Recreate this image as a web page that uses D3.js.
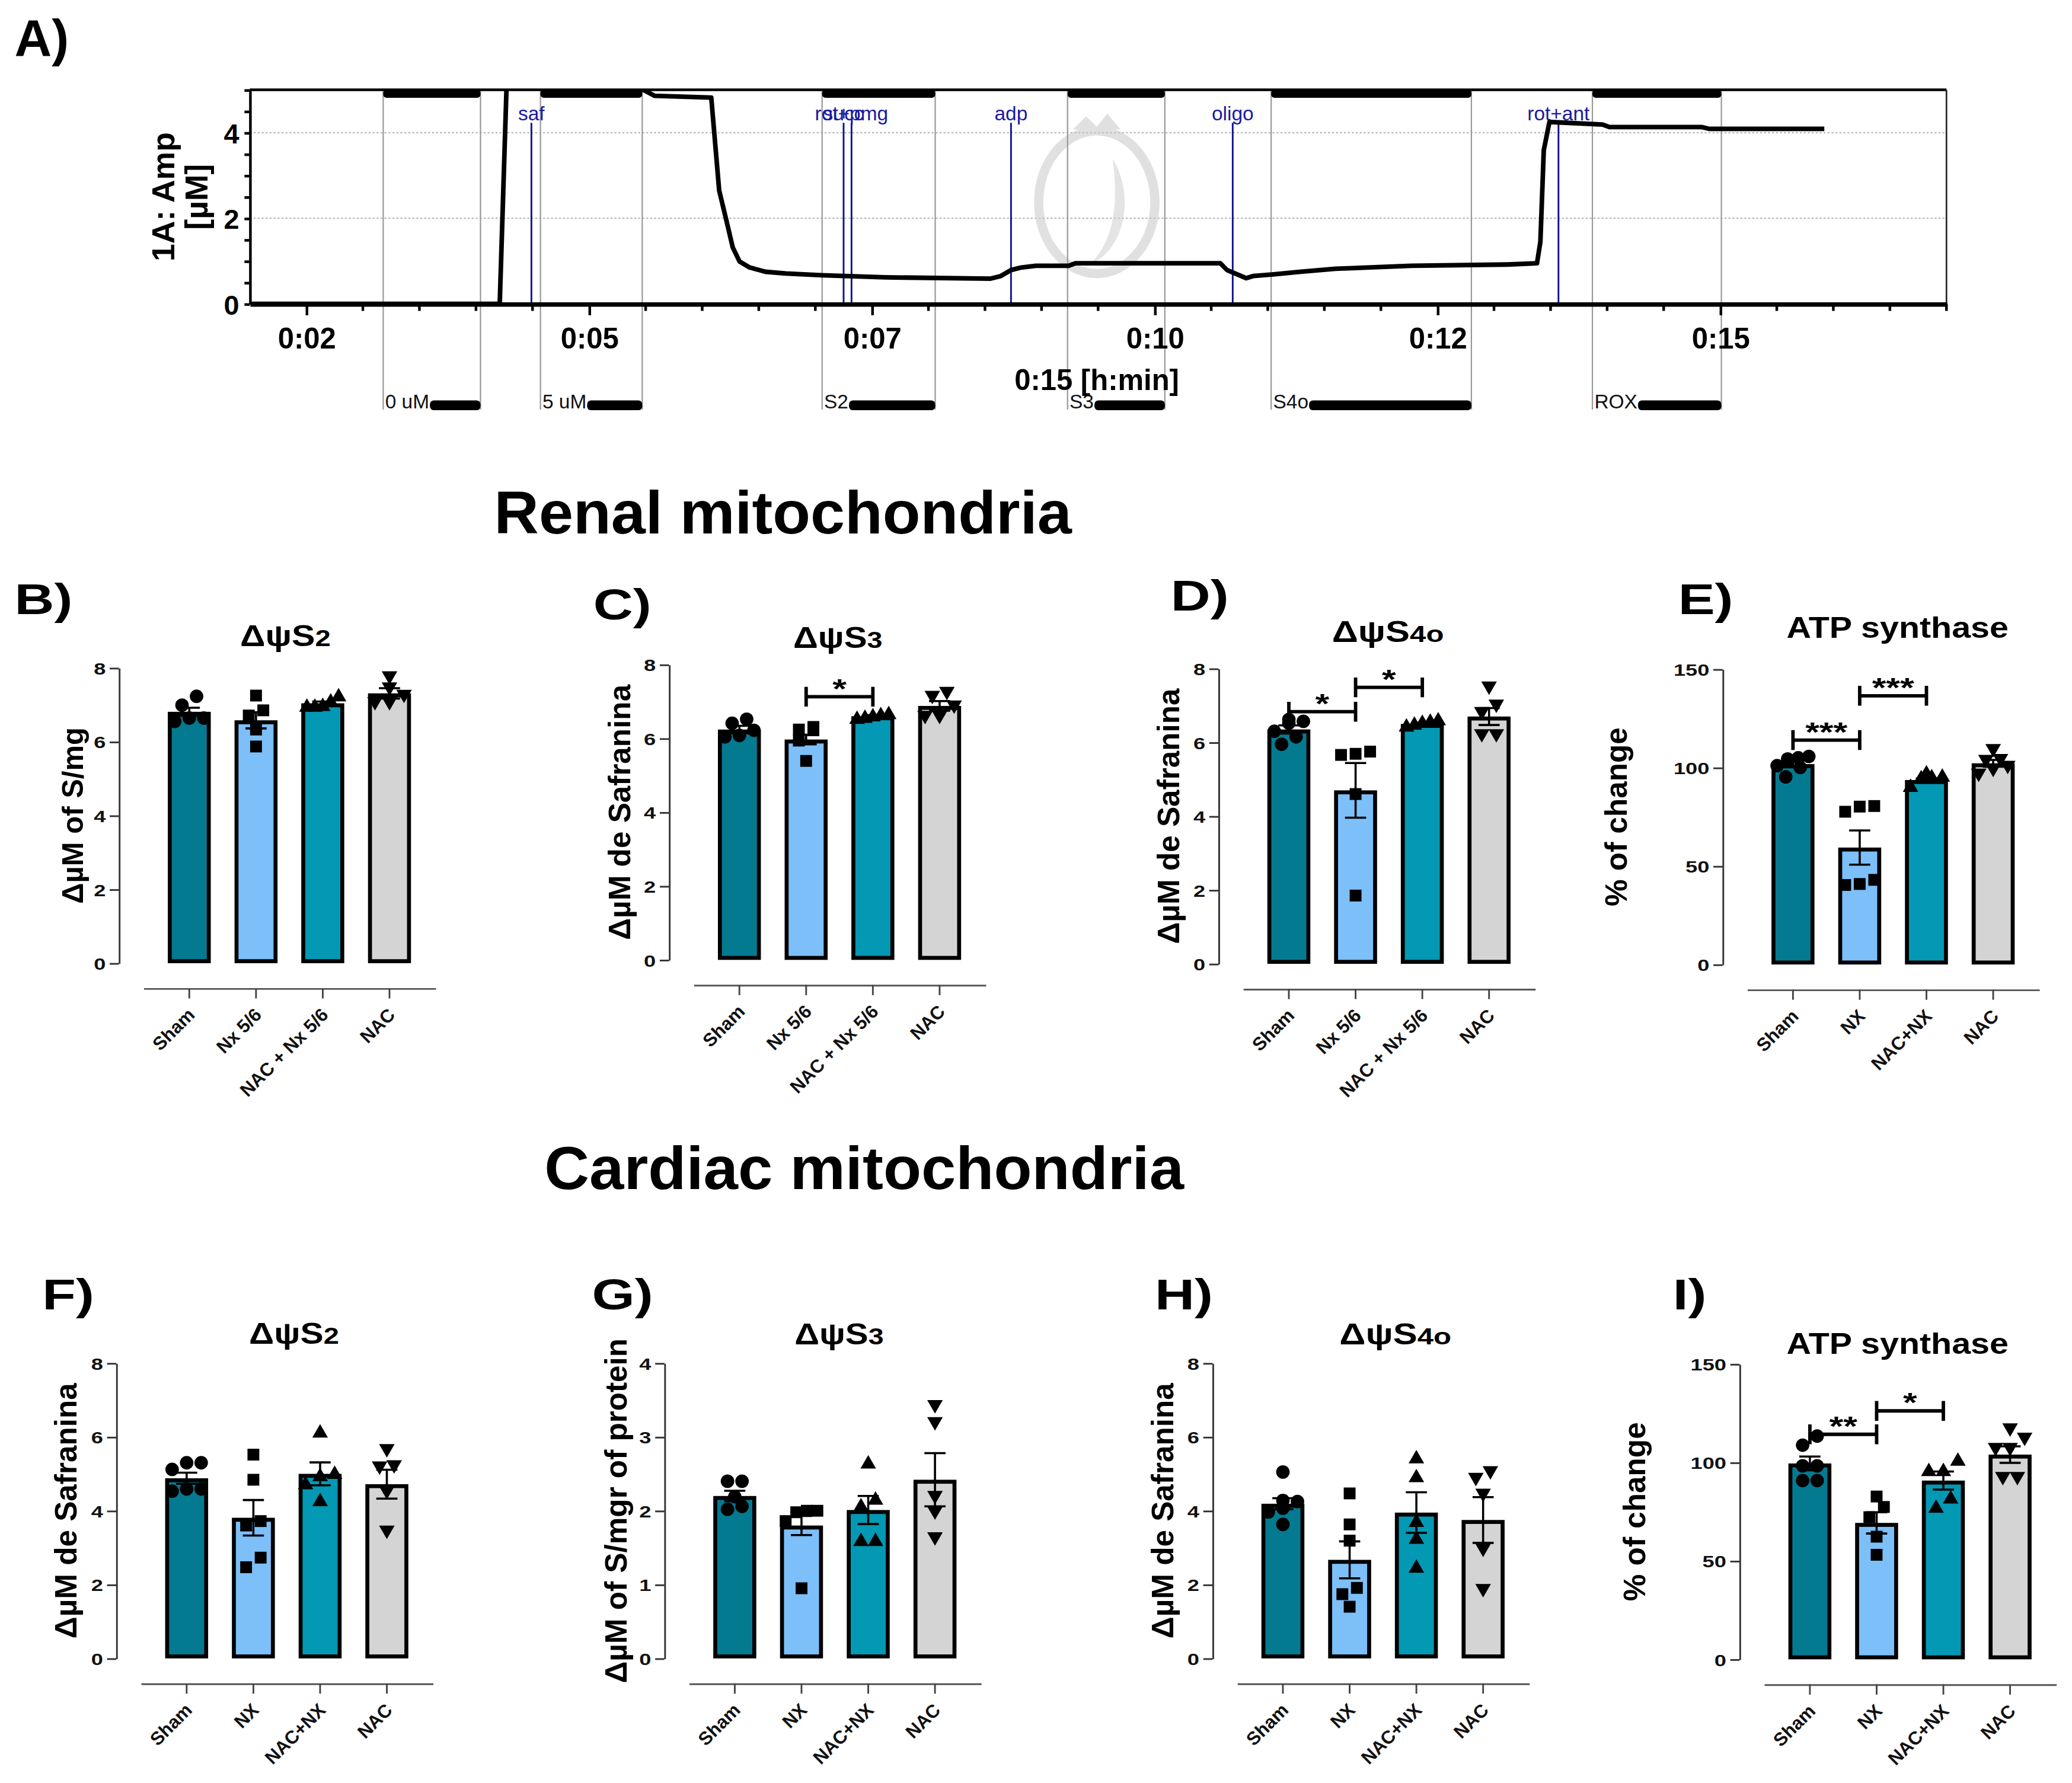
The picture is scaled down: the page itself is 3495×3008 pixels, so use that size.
<!DOCTYPE html>
<html>
<head>
<meta charset="utf-8">
<script src="https://cdn.jsdelivr.net/npm/d3@7"></script>
<style>
  body { margin: 0; background: #fff; }
  svg { display: block; }
  text { font-family: "Liberation Sans", Arial, sans-serif; }
</style>
</head>
<body>
<svg id="fig" width="3495" height="3008" viewBox="0 0 1568 1349.5"></svg>
<script>
// ---------- panel A : safranine trace ----------
var traceTime = [2.0, 4.21, 4.27, 5.48, 5.58, 6.08, 6.15, 6.21, 6.27, 6.33, 6.42, 6.56, 6.74, 7.06, 7.62, 8.55, 8.64, 8.73, 8.82, 8.95, 9.24, 9.30, 10.58, 10.64, 10.73, 10.81, 10.87, 11.05, 11.28, 11.60, 12.27, 13.12, 13.38, 13.41, 13.44, 13.49, 13.96, 14.02, 14.84, 14.90, 15.92];
var traceAmp  = [0, 0, 5.05, 5.0, 4.86, 4.82, 2.65, 1.99, 1.32, 0.99, 0.85, 0.75, 0.71, 0.67, 0.62, 0.59, 0.65, 0.79, 0.85, 0.89, 0.89, 0.95, 0.95, 0.79, 0.69, 0.60, 0.65, 0.69, 0.75, 0.82, 0.89, 0.92, 0.95, 1.45, 3.59, 4.25, 4.19, 4.13, 4.13, 4.09, 4.09];
var eventTime = [4.49, 7.25, 7.32, 8.73, 10.69, 13.57];
var eventLabels = ["saf", "succ", "rot+pmg", "adp", "oligo", "rot+ant"];
var stateStart = [3.18, 4.57, 7.06, 9.23, 11.03, 13.87];
var stateEnd = [4.04, 5.47, 8.06, 10.09, 12.80, 15.01];
var stateLabels = ["0 uM", "5 uM", "S2", "S3", "S4o", "ROX"];
var timeTicks = [2.5, 5, 7.5, 10, 12.5, 15];
var ampTicks = [0, 2, 4];

// ---------- bar panels ----------
var groupsRenal = ["Sham", "Nx 5/6", "NAC + Nx 5/6", "NAC"];
var groupsCardiac = ["Sham", "NX", "NAC+NX", "NAC"];
var ticks8 = [0, 2, 4, 6, 8];
var ticks4 = [0, 1, 2, 3, 4];
var ticks150 = [0, 50, 100, 150];

var meanB = [6.81, 6.58, 7.04, 7.31];
var semB = [0.11, 0.22, 0.05, 0.14];
var ptsB = [[6.99, 7.23, 6.55, 6.64, 6.64], [7.25, 6.71, 6.85, 6.33, 5.87], [7.25, 7.11, 6.99, 6.97, 6.97], [7.75, 7.45, 7.25, 7.05, 7.05]];

var meanC = [6.24, 5.97, 6.60, 6.88];
var semC = [0.10, 0.13, 0.03, 0.13];
var ptsC = [[6.41, 6.52, 6.04, 6.22, 6.08], [6.24, 6.31, 6.22, 5.94, 5.39], [6.68, 6.65, 6.62, 6.58, 6.55], [7.24, 7.13, 6.87, 6.59, 6.59]];
var sigC = [["Nx 5/6", "NAC + Nx 5/6", 7.13, "*"]];

var meanD = [6.35, 4.70, 6.50, 6.70];
var semD = [0.11, 0.74, 0.03, 0.23];
var ptsD = [[6.52, 6.62, 6.57, 6.30, 6.15, 5.95], [5.69, 5.75, 5.66, 4.60, 1.85], [6.62, 6.58, 6.55, 6.50, 6.45], [7.49, 7.00, 6.80, 6.20, 6.20]];
var sigD = [["Sham", "Nx 5/6", 6.83, "*"], ["Nx 5/6", "NAC + Nx 5/6", 7.49, "*"]];

var meanE = [101.8, 59.4, 93.7, 102.2];
var semE = [1.6, 8.7, 0.8, 1.7];
var ptsE = [[104.4, 105.7, 105.0, 100.1, 95.3, 101.0], [80.2, 77.6, 80.5, 40.4, 43.0, 40.9], [97.5, 95.8, 95.5, 95.0, 90.6], [109.0, 104.0, 103.5, 100.5, 99.0, 96.5]];
var sigE = [["Sham", "NX", 114, "***"], ["NX", "NAC+NX", 136.5, "***"]];

var meanF = [4.88, 3.81, 5.00, 4.72];
var semF = [0.15, 0.48, 0.31, 0.39];
var ptsF = [[5.30, 5.30, 5.12, 4.53, 4.59, 4.59], [5.52, 4.84, 3.60, 3.72, 2.47, 2.73], [6.14, 5.02, 4.96, 4.74, 4.28], [5.65, 5.18, 5.21, 4.51, 3.44]];

var meanG = [2.20, 1.80, 2.01, 2.42];
var semG = [0.07, 0.13, 0.19, 0.36];
var ptsG = [[2.40, 2.40, 2.19, 2.02, 2.06], [2.00, 1.98, 2.00, 1.86, 0.95], [2.65, 2.16, 2.07, 1.60, 1.60], [3.42, 3.19, 2.19, 1.98, 1.63]];

var meanH = [4.19, 2.67, 3.95, 3.75];
var semH = [0.15, 0.50, 0.55, 0.62];
var ptsH = [[5.05, 4.28, 4.25, 4.07, 3.97, 3.63], [4.47, 3.63, 3.19, 1.91, 1.74, 1.40], [5.44, 4.93, 3.72, 3.26, 2.48], [5.05, 4.87, 4.44, 2.95, 1.86]];

var meanI = [99.5, 69.3, 90.8, 104.0];
var semI = [3.5, 5.4, 4.6, 4.2];
var ptsI = [[108.8, 113.4, 98.3, 98.3, 90.8, 90.8], [82.7, 77.4, 72.2, 62.3, 53.1], [101.3, 96.0, 96.0, 82.1, 77.4], [116.9, 112.2, 107.0, 107.0, 92.2, 92.2]];
var sigI = [["Sham", "NX", 114.3, "**"], ["NX", "NAC+NX", 126.2, "*"]];

var barColors = ["#047a91", "#7dbff9", "#0398b3", "#d4d4d4"];
var symbolTypes = [d3.symbolCircle, d3.symbolSquare, d3.symbolTriangle, d3.symbolTriangle];
var symbolSizes = [82, 80, 60, 60];

var svg = d3.select("#fig");

// =============== Panel A ===============
var box = {l: 189, r: 1473, t: 68, b: 230};
var xT = d3.scaleLinear().domain([2, 17]).range([box.l, box.r]);
var yA = d3.scaleLinear().domain([0, 5]).range([box.b, box.t]);
var gA = svg.append("g");

gA.append("text").text("A)").attr("x", 11).attr("y", 42)
  .attr("font-size", 39).attr("font-weight", "bold");

// dotted grid
gA.selectAll(".grid").data(ampTicks.filter(d => d > 0)).join("line")
  .attr("x1", box.l).attr("x2", box.r)
  .attr("y1", d => yA(d)).attr("y2", d => yA(d))
  .attr("stroke", "#b8b8b8").attr("stroke-width", 1).attr("stroke-dasharray", "1.5,1.5");

// faint watermark
var wm = gA.append("g").attr("opacity", 0.55);
wm.append("ellipse").attr("cx", 830).attr("cy", 153).attr("rx", 44).attr("ry", 54)
  .attr("fill", "none").attr("stroke", "#c8c8c8").attr("stroke-width", 7);
wm.append("path").attr("d", "M812,98 L822,88 L830,96 L838,86 L848,98 Z").attr("fill", "#c8c8c8");
wm.append("path").attr("d", "M842,120 C860,150 850,190 825,200 C845,180 846,150 842,120 Z").attr("fill", "#cfcfcf");

// state intervals
var states = stateLabels.map((s, i) => ({label: s, a: stateStart[i], b: stateEnd[i]}));
gA.selectAll(".sline").data(states.flatMap(d => [d.a, d.b])).join("line")
  .attr("x1", d => xT(d)).attr("x2", d => xT(d))
  .attr("y1", box.t).attr("y2", 310)
  .attr("stroke", "#9a9a9a").attr("stroke-width", 1);
gA.selectAll(".topbar").data(states).join("rect")
  .attr("x", d => xT(d.a)).attr("width", d => xT(d.b) - xT(d.a))
  .attr("y", box.t).attr("height", 6).attr("rx", 2.5).attr("fill", "#000");
var sLab = gA.selectAll(".slab").data(states).join("text")
  .attr("x", d => xT(d.a) + 1.5).attr("y", 309)
  .attr("font-size", 15).attr("fill", "#111").text(d => d.label);
sLab.each(function (d) { d.w = this.getComputedTextLength(); });
gA.selectAll(".botbar").data(states).join("rect")
  .attr("x", d => xT(d.a) + 2 + d.w).attr("width", d => xT(d.b) - xT(d.a) - 2 - d.w)
  .attr("y", 303).attr("height", 7.5).attr("rx", 3).attr("fill", "#000");

// event marks
var events = eventLabels.map((s, i) => ({label: s, t: eventTime[i]}));
gA.selectAll(".ev").data(events).join("line")
  .attr("x1", d => xT(d.t)).attr("x2", d => xT(d.t))
  .attr("y1", 93).attr("y2", box.b)
  .attr("stroke", "#10108c").attr("stroke-width", 1.3);
gA.selectAll(".evlab").data(events).join("text")
  .attr("x", d => xT(d.t)).attr("y", 91).attr("text-anchor", "middle")
  .attr("font-size", 15).attr("fill", "#1a1aa0").text(d => d.label);

// trace
gA.append("clipPath").attr("id", "clipA").append("rect")
  .attr("x", box.l).attr("y", box.t).attr("width", box.r - box.l).attr("height", box.b - box.t);
var trace = traceTime.map((t, i) => [t, traceAmp[i]]);
gA.append("path").datum(trace)
  .attr("clip-path", "url(#clipA)")
  .attr("d", d3.line().x(d => xT(d[0])).y(d => yA(d[1])))
  .attr("fill", "none").attr("stroke", "#000").attr("stroke-width", 3.5)
  .attr("stroke-linejoin", "round");

// frame
gA.append("line").attr("x1", box.l).attr("x2", box.r).attr("y1", box.t).attr("y2", box.t)
  .attr("stroke", "#000").attr("stroke-width", 2);
gA.append("line").attr("x1", box.r).attr("x2", box.r).attr("y1", box.t).attr("y2", box.b)
  .attr("stroke", "#222").attr("stroke-width", 1.2);

// x axis
var xAxA = gA.append("g").attr("transform", `translate(0,${box.b})`)
  .call(d3.axisBottom(xT).tickValues(timeTicks).tickSize(8.6).tickSizeOuter(0)
    .tickFormat(d => "0:" + String(Math.floor(d)).padStart(2, "0")));
xAxA.select(".domain").attr("stroke", "#000").attr("stroke-width", 3.4);
xAxA.selectAll(".tick line").attr("stroke", "#000").attr("stroke-width", 2);
xAxA.selectAll(".tick text").attr("y", 34).attr("dy", 0)
  .attr("font-size", 22).attr("font-weight", "bold").attr("fill", "#000")
  .attr("font-family", "'Liberation Sans', Arial, sans-serif");
var minorT = d3.range(2.5, 17.01, 0.5).filter(t => timeTicks.indexOf(t) < 0);
xAxA.selectAll(".minor").data(minorT).join("line")
  .attr("x1", d => xT(d)).attr("x2", d => xT(d)).attr("y1", 0).attr("y2", 5.3)
  .attr("stroke", "#000").attr("stroke-width", 2);
gA.append("text").text("0:15 [h:min]").attr("x", 830).attr("y", 295)
  .attr("text-anchor", "middle").attr("font-size", 22).attr("font-weight", "bold");

// y axis
var yAxA = gA.append("g").attr("transform", `translate(${box.l},0)`)
  .call(d3.axisLeft(yA).tickValues(d3.range(0, 5.01, 0.5)).tickSize(4).tickSizeOuter(0)
    .tickFormat(d => ampTicks.indexOf(d) >= 0 ? d : ""));
yAxA.select(".domain").attr("stroke", "#000").attr("stroke-width", 2);
yAxA.selectAll(".tick line").attr("stroke", "#000").attr("stroke-width", 2);
yAxA.selectAll(".tick text").attr("x", -8).attr("dy", "0.36em")
  .attr("font-size", 21).attr("font-weight", "bold").attr("fill", "#000")
  .attr("font-family", "'Liberation Sans', Arial, sans-serif");
gA.append("text").text("1A: Amp").attr("transform", "translate(132,149) rotate(-90)")
  .attr("text-anchor", "middle").attr("font-size", 24).attr("font-weight", "bold");
gA.append("text").text("[µM]").attr("transform", "translate(157,149) rotate(-90)")
  .attr("text-anchor", "middle").attr("font-size", 24).attr("font-weight", "bold");

// =============== section titles ===============
svg.append("text").text("Renal mitochondria").attr("x", 374).attr("y", 404)
  .attr("font-size", 46).attr("font-weight", "bold")
  .attr("textLength", 437).attr("lengthAdjust", "spacingAndGlyphs");
svg.append("text").text("Cardiac mitochondria").attr("x", 412).attr("y", 900)
  .attr("font-size", 46).attr("font-weight", "bold")
  .attr("textLength", 484).attr("lengthAdjust", "spacingAndGlyphs");

// =============== bar panels ===============
var PH = 223.5;   // plot height
var SX = 1.3;     // horizontal stretch of the pasted Prism graphs

function swarm(vals, yS, step) {
  var order = vals.map((v, i) => i).sort((a, b) => vals[a] - vals[b]);
  var off = vals.map(() => 0);
  var rows = [], row = [];
  order.forEach(i => {
    if (row.length && Math.abs(yS(vals[i]) - yS(vals[row[0]])) < 8) row.push(i);
    else { if (row.length) rows.push(row); row = [i]; }
  });
  if (row.length) rows.push(row);
  rows.forEach(r => {
    var s = r.length > 1 ? Math.min(step, 24 / (r.length - 1)) : 0;
    r.forEach((i, k) => { off[i] = (k - (r.length - 1) / 2) * s; });
  });
  return off;
}

function drawBars(p) {
  var g = svg.append("g");
  var y = d3.scaleLinear().domain([0, p.yMax]).range([p.top + PH, p.top]);
  var x0 = p.ax + 18.5;
  var x = d3.scaleBand().domain(p.groups).range([x0, x0 + 221])
    .paddingInner(0.356).paddingOuter(0.366);
  var cx = d => x(d) + x.bandwidth() / 2;
  var xAxisY = p.top + PH + 19;

  // letter
  g.append("text").text(p.letter)
    .attr("transform", `translate(${p.lx},${p.ly}) scale(${SX},1)`)
    .attr("font-size", 32).attr("font-weight", "bold");

  // title
  var tt = g.append("text").attr("x", p.tx).attr("y", p.ty)
    .attr("text-anchor", "middle").attr("font-family", "'Open Sans', sans-serif")
    .attr("font-weight", 600).attr("font-size", p.tsize)
    .attr("textLength", p.tlen).attr("lengthAdjust", "spacingAndGlyphs");
  tt.append("tspan").text(p.title[0]);
  if (p.title[1]) tt.append("tspan").attr("font-size", p.tsize * 0.8).text(p.title[1]);

  // y axis
  var ya = g.append("g").attr("transform", `translate(${p.ax},0)`)
    .call(d3.axisLeft(y).tickValues(p.ticks).tickSize(7).tickSizeOuter(0).tickFormat(d3.format("d")));
  ya.select(".domain").attr("stroke", "#333").attr("stroke-width", 1.3);
  ya.selectAll(".tick line").attr("stroke", "#333").attr("stroke-width", 1.3);
  ya.selectAll(".tick text")
    .attr("x", 0).attr("dy", "0.36em")
    .attr("transform", `translate(-10,0) scale(${SX},1)`)
    .attr("font-size", 12.5).attr("font-weight", "bold").attr("fill", "#111")
    .attr("font-family", "'Liberation Sans', Arial, sans-serif");

  g.append("text").text(p.ytitle)
    .attr("transform", `translate(${p.ytx + 7},${p.top + PH / 2}) rotate(-90)`)
    .attr("text-anchor", "middle").attr("font-size", p.ysize || 23).attr("font-weight", "bold");

  // x axis
  var xa = g.append("g").attr("transform", `translate(0,${xAxisY})`)
    .call(d3.axisBottom(x).tickSize(7.7).tickSizeOuter(0));
  xa.select(".domain").attr("stroke", "#555").attr("stroke-width", 1.3);
  xa.selectAll(".tick line").attr("stroke", "#444").attr("stroke-width", 1.3);
  xa.selectAll(".tick text")
    .attr("x", 0).attr("y", 0).attr("dy", 0)
    .attr("transform", "translate(5,21) rotate(-45)")
    .attr("text-anchor", "end")
    .attr("font-size", 14).attr("font-weight", "bold").attr("fill", "#111")
    .attr("font-family", "'Liberation Sans', Arial, sans-serif");

  // bars
  g.selectAll(".bar").data(p.groups).join("rect")
    .attr("x", d => x(d) + 1.5).attr("width", x.bandwidth() - 3)
    .attr("y", (d, i) => y(p.means[i]) + 1.5)
    .attr("height", (d, i) => y(0) - y(p.means[i]) - 3)
    .attr("fill", (d, i) => barColors[i])
    .attr("stroke", "#000").attr("stroke-width", 3);

  // points
  p.groups.forEach((grp, i) => {
    var off = swarm(p.pts[i], y, 11);
    var sym = d3.symbol().type(symbolTypes[i]).size(symbolSizes[i]);
    g.selectAll(".pt" + i).data(p.pts[i]).join("path")
      .attr("d", sym)
      .attr("transform", (v, k) => `translate(${cx(grp) + off[k]},${y(v) + (i === 3 ? -1 : (i === 2 ? 1 : 0))})` + (i === 3 ? " rotate(180)" : ""))
      .attr("fill", "#000");
  });

  // error bars (mean +/- SEM)
  p.groups.forEach((grp, i) => {
    var c = cx(grp), lo = y(p.means[i] - p.sems[i]), hi = y(p.means[i] + p.sems[i]);
    g.append("path")
      .attr("d", `M${c},${lo}V${hi}M${c - 8},${hi}H${c + 8}M${c - 8},${lo}H${c + 8}`)
      .attr("stroke", "#000").attr("stroke-width", 1.6).attr("fill", "none");
  });

  // significance brackets
  (p.sig || []).forEach(s => {
    var a = cx(s[0]), b = cx(s[1]), yy = y(s[2]);
    g.append("path")
      .attr("d", `M${a},${yy}H${b}M${a},${yy - 7.5}V${yy + 7.5}M${b},${yy - 7.5}V${yy + 7.5}`)
      .attr("stroke", "#000").attr("stroke-width", 2.6).attr("fill", "none");
    g.append("text").text(s[3])
      .attr("transform", `translate(${(a + b) / 2},${yy + 1}) scale(${SX},1)`)
      .attr("text-anchor", "middle").attr("font-size", 21).attr("font-weight", "bold");
  });
}

drawBars({letter: "B)", lx: 11, ly: 465, title: ["ΔψS", "2"], tx: 216, ty: 489, tlen: 68.6, tsize: 22,
  ax: 90, top: 505.5, yMax: 8, ticks: ticks8, ytitle: "ΔµM of S/mg", ytx: 56, ysize: 22,
  groups: groupsRenal, means: meanB, sems: semB, pts: ptsB});
drawBars({letter: "C)", lx: 449, ly: 469, title: ["ΔψS", "3"], tx: 634, ty: 490.5, tlen: 67.5, tsize: 22,
  ax: 506.3, top: 503, yMax: 8, ticks: ticks8, ytitle: "ΔµM de Safranina", ytx: 470,
  groups: groupsRenal, means: meanC, sems: semC, pts: ptsC, sig: sigC});
drawBars({letter: "D)", lx: 886, ly: 462, title: ["ΔψS", "4o"], tx: 1050.3, ty: 486, tlen: 84.7, tsize: 22,
  ax: 922.1, top: 506, yMax: 8, ticks: ticks8, ytitle: "ΔµM de Safranina", ytx: 885.5,
  groups: groupsRenal, means: meanD, sems: semD, pts: ptsD, sig: sigD});
drawBars({letter: "E)", lx: 1270, ly: 465, title: ["ATP synthase"], tx: 1436, ty: 482.8, tlen: 168, tsize: 22,
  ax: 1303.6, top: 506.5, yMax: 150, ticks: ticks150, ytitle: "% of change", ytx: 1224,
  groups: groupsCardiac, means: meanE, sems: semE, pts: ptsE, sig: sigE});
drawBars({letter: "F)", lx: 32, ly: 991, title: ["ΔψS", "2"], tx: 222.5, ty: 1017, tlen: 68.1, tsize: 22,
  ax: 88, top: 1031.7, yMax: 8, ticks: ticks8, ytitle: "ΔµM de Safranina", ytx: 51,
  groups: groupsCardiac, means: meanF, sems: semF, pts: ptsF});
drawBars({letter: "G)", lx: 448, ly: 991, title: ["ΔψS", "3"], tx: 635, ty: 1017.4, tlen: 67.5, tsize: 22,
  ax: 502.8, top: 1031.7, yMax: 4, ticks: ticks4, ytitle: "ΔµM of S/mgr of protein", ytx: 467,
  groups: groupsCardiac, means: meanG, sems: semG, pts: ptsG});
drawBars({letter: "H)", lx: 874, ly: 991, title: ["ΔψS", "4o"], tx: 1056, ty: 1017.4, tlen: 84.7, tsize: 22,
  ax: 917.6, top: 1031.7, yMax: 8, ticks: ticks8, ytitle: "ΔµM de Safranina", ytx: 881,
  groups: groupsCardiac, means: meanH, sems: semH, pts: ptsH});
drawBars({letter: "I)", lx: 1266, ly: 991, title: ["ATP synthase"], tx: 1436, ty: 1024.7, tlen: 168, tsize: 22,
  ax: 1316.4, top: 1032.4, yMax: 150, ticks: ticks150, ytitle: "% of change", ytx: 1238,
  groups: groupsCardiac, means: meanI, sems: semI, pts: ptsI, sig: sigI});
</script>
</body>
</html>
